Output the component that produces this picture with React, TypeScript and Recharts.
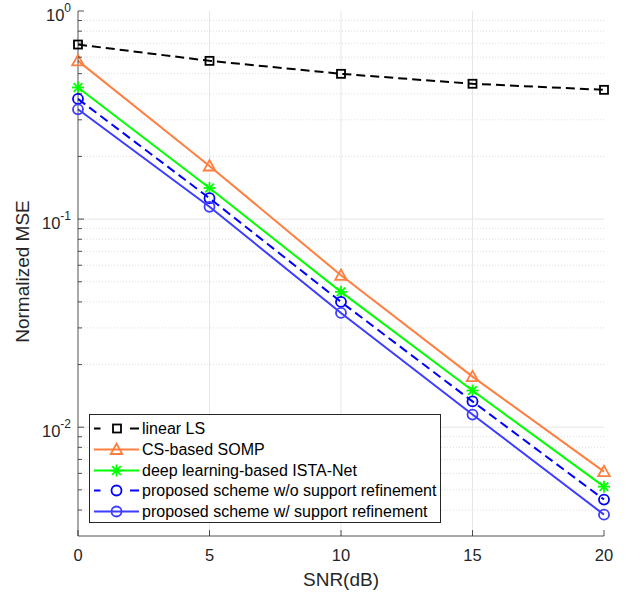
import React from 'react';
import { LineChart, Line, XAxis, YAxis, ReferenceLine, Legend } from 'recharts';

const snr = [0, 5, 10, 15, 20];
const linearLS = [0.69, 0.576, 0.499, 0.447, 0.418];
const csSomp = [0.576, 0.18, 0.0537, 0.0175, 0.00612];
const istaNet = [0.429, 0.141, 0.0447, 0.015, 0.00518];
const proposedWo = [0.378, 0.126, 0.04, 0.0133, 0.00449];
const proposedW = [0.337, 0.1146, 0.0354, 0.0115, 0.0038];

const xTicks = [0, 5, 10, 15, 20];
const yMajorTicks = [0.01, 0.1, 1];
const yMinorTicks = [
  0.004, 0.005, 0.006, 0.007, 0.008, 0.009,
  0.02, 0.03, 0.04, 0.05, 0.06, 0.07, 0.08, 0.09,
  0.2, 0.3, 0.4, 0.5, 0.6, 0.7, 0.8, 0.9,
];
const yAllTicks = [...yMinorTicks, ...yMajorTicks].sort((a, b) => a - b);

const labels = [
  'linear LS',
  'CS-based SOMP',
  'deep learning-based ISTA-Net',
  'proposed scheme w/o support refinement',
  'proposed scheme w/ support refinement',
];

const data = snr.map((s, i) => ({
  snr: s,
  ls: linearLS[i],
  somp: csSomp[i],
  ista: istaNet[i],
  wo: proposedWo[i],
  w: proposedW[i],
}));

const FONT = '"Liberation Sans", Arial, Helvetica, sans-serif';
const AX = '#262626';
const ORANGE = '#FF7F3F';
const GREEN = '#00FF00';
const BLUE_D = '#0000FF';
const BLUE_S = '#3D3DFF';

type MarkerKind = 'square' | 'triangle' | 'asterisk' | 'circle';

const Marker = ({ kind, cx, cy, color }: { kind: MarkerKind; cx: number; cy: number; color: string }) => {
  if (cx == null || cy == null || isNaN(cx) || isNaN(cy)) return null;
  if (kind === 'square') {
    return <rect x={cx - 4} y={cy - 4} width={8} height={8} fill="none" stroke={color} strokeWidth={1.8} />;
  }
  if (kind === 'triangle') {
    const s = 5.8;
    return (
      <polygon
        points={`${cx},${cy - s} ${cx - s},${cy + s * 0.78} ${cx + s},${cy + s * 0.78}`}
        fill="none"
        stroke={color}
        strokeWidth={1.8}
      />
    );
  }
  if (kind === 'asterisk') {
    const r = 6;
    const d = r * 0.72;
    return (
      <g stroke={color} strokeWidth={1.8}>
        <line x1={cx - r} y1={cy} x2={cx + r} y2={cy} />
        <line x1={cx} y1={cy - r} x2={cx} y2={cy + r} />
        <line x1={cx - d} y1={cy - d} x2={cx + d} y2={cy + d} />
        <line x1={cx - d} y1={cy + d} x2={cx + d} y2={cy - d} />
      </g>
    );
  }
  return <circle cx={cx} cy={cy} r={5} fill="none" stroke={color} strokeWidth={1.8} />;
};

const series: { key: string; color: string; kind: MarkerKind; dashed: boolean }[] = [
  { key: 'ls', color: '#000000', kind: 'square', dashed: true },
  { key: 'somp', color: ORANGE, kind: 'triangle', dashed: false },
  { key: 'ista', color: GREEN, kind: 'asterisk', dashed: false },
  { key: 'wo', color: BLUE_D, kind: 'circle', dashed: true },
  { key: 'w', color: BLUE_S, kind: 'circle', dashed: false },
];

const LeftTick = (props: any) => {
  const { x, y, payload } = props;
  const v = payload.value;
  const major = yMajorTicks.includes(v);
  const exp = Math.round(Math.log10(v));
  return (
    <g>
      <line x1={x} x2={x + (major ? 6 : 4)} y1={y} y2={y} stroke={AX} strokeWidth={0.8} />
      {major && (
        <text x={x - 7} y={y + 10} textAnchor="end" fontFamily={FONT} fontSize={16.5} fill={AX}>
          10
          <tspan dy={-9} fontSize={12}>
            {exp === 0 ? '0' : `-${Math.abs(exp)}`}
          </tspan>
        </text>
      )}
    </g>
  );
};

const RightTick = (props: any) => {
  const { x, y, payload } = props;
  const major = yMajorTicks.includes(payload.value);
  return <line x1={x} x2={x - (major ? 6 : 4)} y1={y} y2={y} stroke={AX} strokeWidth={0.8} />;
};

const BottomTick = (props: any) => {
  const { x, y, payload } = props;
  return (
    <g>
      <line x1={x} x2={x} y1={y} y2={y - 6} stroke={AX} strokeWidth={0.8} />
      <text x={x} y={y + 25} textAnchor="middle" fontFamily={FONT} fontSize={16.5} fill={AX}>
        {payload.value}
      </text>
    </g>
  );
};

const TopTick = (props: any) => {
  const { x, y } = props;
  return <line x1={x} x2={x} y1={y} y2={y + 6} stroke={AX} strokeWidth={0.8} />;
};

const XLabel = (props: any) => {
  const vb = props.viewBox || {};
  return (
    <text x={vb.x + vb.width / 2} y={vb.y + 50} textAnchor="middle" fontFamily={FONT} fontSize={19} fill={AX}>
      SNR(dB)
    </text>
  );
};

const YLabel = (props: any) => {
  const vb = props.viewBox || {};
  const cx = 28.5;
  const cy = vb.y + vb.height / 2 - 2;
  return (
    <text
      x={cx}
      y={cy}
      transform={`rotate(-90 ${cx} ${cy})`}
      textAnchor="middle"
      fontFamily={FONT}
      fontSize={19}
      fill={AX}
    >
      Normalized MSE
    </text>
  );
};

const LegendSample = ({ s }: { s: (typeof series)[number] }) => (
  <svg width={52} height={21} style={{ position: 'absolute', left: 0, top: 0 }}>
    {s.dashed ? (
      <g stroke={s.color} strokeWidth={2}>
        <line x1={4} y1={10.5} x2={10.5} y2={10.5} />
        <line x1={40} y1={10.5} x2={49} y2={10.5} />
      </g>
    ) : (
      <line x1={4} y1={10.5} x2={49} y2={10.5} stroke={s.color} strokeWidth={2} />
    )}
    <Marker kind={s.kind} cx={s.dashed && s.kind === 'square' ? 27 : 26.5} cy={10.5} color={s.color} />
  </svg>
);

const LegendBox = () => (
  <div
    style={{
      position: 'relative',
      width: 352,
      height: 109,
      border: `1px solid ${AX}`,
      boxSizing: 'border-box',
      background: '#fff',
      fontFamily: FONT,
      fontSize: 16,
      color: '#000',
    }}
  >
    {series.map((s, i) => (
      <div key={s.key} style={{ position: 'absolute', left: 0, top: 3 + i * 20.8, height: 21, width: 350 }}>
        <LegendSample s={s} />
        <span style={{ position: 'absolute', left: 52, top: 0, lineHeight: '21px', whiteSpace: 'nowrap' }}>
          {labels[i]}
        </span>
      </div>
    ))}
  </div>
);

export default function App() {
  return (
    <div style={{ position: 'absolute', left: 0, top: 0, width: 633, height: 597, background: '#fff' }}>
      <LineChart width={633} height={597} data={data} margin={{ top: 11, right: 29, bottom: 0, left: 0 }}>
        <XAxis
          xAxisId={0}
          dataKey="snr"
          type="number"
          domain={[0, 20]}
          ticks={xTicks}
          interval={0}
          height={61}
          tickSize={0}
          tickMargin={0}
          tick={<BottomTick />}
          axisLine={{ stroke: AX, strokeWidth: 0.8 }}
          tickLine={false}
          label={<XLabel />}
        />
        <XAxis
          xAxisId="top"
          orientation="top"
          dataKey="snr"
          type="number"
          domain={[0, 20]}
          ticks={xTicks}
          interval={0}
          height={0}
          tickSize={0}
          tickMargin={0}
          tick={<TopTick />}
          axisLine={{ stroke: AX, strokeWidth: 0.8 }}
          tickLine={false}
        />
        <YAxis
          yAxisId={0}
          type="number"
          scale="log"
          domain={[0.003, 1]}
          allowDataOverflow
          ticks={yAllTicks}
          interval={0}
          width={78}
          tickSize={0}
          tickMargin={0}
          tick={<LeftTick />}
          axisLine={{ stroke: AX, strokeWidth: 0.8 }}
          tickLine={false}
          label={<YLabel />}
        />
        <YAxis
          yAxisId="right"
          orientation="right"
          type="number"
          scale="log"
          domain={[0.003, 1]}
          allowDataOverflow
          ticks={yAllTicks}
          interval={0}
          width={0}
          tickSize={0}
          tickMargin={0}
          tick={<RightTick />}
          axisLine={{ stroke: AX, strokeWidth: 0.8 }}
          tickLine={false}
        />
        {yMinorTicks.map((v) => (
          <ReferenceLine key={`mn${v}`} y={v} stroke="#DEDEDE" strokeWidth={1} strokeDasharray="1 2" />
        ))}
        {yMajorTicks.slice(0, 2).map((v) => (
          <ReferenceLine key={`mj${v}`} y={v} stroke="#E6E6E6" strokeWidth={1} />
        ))}
        {xTicks.slice(1, 4).map((v) => (
          <ReferenceLine key={`vx${v}`} x={v} stroke="#E6E6E6" strokeWidth={1} />
        ))}
        {series.map((s) => (
          <Line
            key={s.key}
            dataKey={s.key}
            stroke={s.color}
            strokeWidth={2}
            strokeDasharray={s.dashed ? '9 5' : undefined}
            isAnimationActive={false}
            dot={(p: any) => <Marker key={`${s.key}${p.index}`} kind={s.kind} cx={p.cx} cy={p.cy} color={s.color} />}
            activeDot={false}
          />
        ))}
        <Legend
          layout="horizontal"
          verticalAlign="middle"
          align="center"
          content={<LegendBox />}
          wrapperStyle={{ position: 'absolute', left: 89, top: 414, width: 352, height: 109 }}
        />
      </LineChart>
    </div>
  );
}
